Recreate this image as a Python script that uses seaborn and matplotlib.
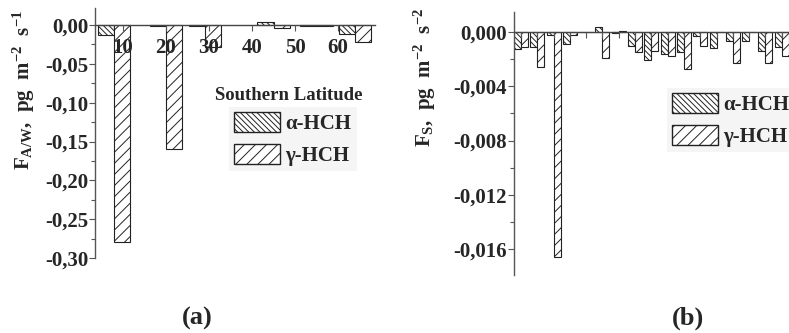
import matplotlib
matplotlib.use("Agg")
import matplotlib.pyplot as plt
from matplotlib.patches import Patch
from matplotlib.ticker import FixedLocator, FuncFormatter, MultipleLocator
import pandas as pd
import seaborn as sns

compounds = ["α-HCH", "γ-HCH"]

# (a) air/water exchange flux against southern latitude
lat_a = [8, 20, 29, 45, 55, 64]
alpha_a = [-0.013, -0.0008, -0.0008, 0.0035, -0.0008, -0.011]
gamma_a = [-0.280, -0.160, -0.028, -0.004, -0.0008, -0.022]

# (b) flux per sampling station
station_b = list(range(1, 18))
alpha_b = [-0.00125, -0.0011, -0.0002, -0.0009, 0.0, 0.0004, -0.0001, -0.0010, -0.0021,
           -0.0016, -0.0015, -0.0003, -0.0012, -0.0007, -0.0007, -0.0014, -0.0011]
gamma_b = [-0.0011, -0.0026, -0.0166, -0.0002, 0.0, -0.0019, 0.0001, -0.0015, -0.0014,
           -0.0018, -0.0027, -0.0010, 0.0, -0.0023, 0.0, -0.0023, -0.0018]

yticks_a = [0.0, -0.05, -0.10, -0.15, -0.20, -0.25, -0.30]
yticks_b = [0.0, -0.004, -0.008, -0.012, -0.016]
xticks_a = [10, 20, 30, 40, 50, 60]

hatches = {"α-HCH": "\\\\\\\\\\\\", "γ-HCH": "///"}

sns.set_theme(style="ticks")
plt.rcParams["font.family"] = ["Liberation Serif", "DejaVu Serif"]
plt.rcParams["font.weight"] = "bold"
plt.rcParams["mathtext.fontset"] = "custom"
plt.rcParams["mathtext.rm"] = "Liberation Serif:bold"
plt.rcParams["mathtext.it"] = "Liberation Serif:bold"
plt.rcParams["mathtext.bf"] = "Liberation Serif:bold"
plt.rcParams["hatch.linewidth"] = 0.7
plt.rcParams["hatch.color"] = "#222222"
plt.rcParams["axes.unicode_minus"] = False


def comma_fmt(decimals):
    def f(v, pos):
        if abs(v) < 1e-12:
            v = 0.0
        return f"{v:.{decimals}f}".replace(".", ",")
    return FuncFormatter(f)


def style_axes(ax):
    ax.set_axisbelow(False)
    for side in ["top", "right"]:
        ax.spines[side].set_visible(False)
    ax.spines["bottom"].set_position(("data", 0))
    ax.spines["left"].set_color("#555555")
    ax.spines["bottom"].set_color("#444444")
    ax.spines["left"].set_linewidth(1.0)
    ax.spines["bottom"].set_linewidth(1.0)
    ax.tick_params(axis="both", which="both", direction="out", color="#555555", width=0.8)
    ax.tick_params(axis="both", which="major", length=4, labelsize=15)
    ax.tick_params(axis="y", which="minor", length=3)
    ax.tick_params(axis="y", pad=1)
    for c, comp in zip(ax.containers, compounds):
        for bar in c:
            bar.set_hatch(hatches[comp])
    handles = [Patch(facecolor="white", edgecolor="#222222", hatch=hatches[c], label=c)
               for c in compounds]
    return handles


fig = plt.figure(figsize=(7.89, 3.33), dpi=100)
ax_a = fig.add_axes([0.1204, 0.2252, 0.3549, 0.7508])
ax_b = fig.add_axes([0.6515, 0.1742, 0.3485, 0.7898])

pal = {c: "white" for c in compounds}

df_a = pd.DataFrame({
    "lat": lat_a + lat_a,
    "flux": alpha_a + gamma_a,
    "compound": [compounds[0]] * len(lat_a) + [compounds[1]] * len(lat_a),
})
sns.barplot(data=df_a, x="lat", y="flux", hue="compound", hue_order=compounds,
            native_scale=True, palette=pal, width=0.83, errorbar=None, saturation=1,
            edgecolor="#222222", linewidth=0.8, legend=False, ax=ax_a)

df_b = pd.DataFrame({
    "station": station_b + station_b,
    "flux": alpha_b + gamma_b,
    "compound": [compounds[0]] * len(station_b) + [compounds[1]] * len(station_b),
})
sns.barplot(data=df_b, x="station", y="flux", hue="compound", hue_order=compounds,
            palette=pal, width=0.86, errorbar=None, saturation=1,
            edgecolor="#222222", linewidth=0.8, legend=False, ax=ax_b)

# panel (a)
handles = style_axes(ax_a)
ax_a.set_xlim(3.5, 68.6)
ax_a.set_ylim(-0.30, 0.022)
ax_a.set_xticks(xticks_a)
ax_a.set_xticklabels([str(t) for t in xticks_a])
ax_a.tick_params(axis="x", pad=5)
ax_a.yaxis.set_major_locator(FixedLocator(yticks_a))
ax_a.yaxis.set_minor_locator(MultipleLocator(0.025))
ax_a.yaxis.set_major_formatter(comma_fmt(2))
ax_a.set_ylabel(r"F$_{A/W}$,  pg  m$^{-2}$  s$^{-1}$", fontsize=15, fontweight="bold")
ax_a.yaxis.set_label_coords(-0.207, 0.672)
ax_a.set_xlabel("Southern Latitude", fontsize=13.5, fontweight="bold")
ax_a.xaxis.set_label_coords(0.691, 0.684)
ax_a.legend(handles=handles, loc="upper left", bbox_to_anchor=(0.479, 0.604),
            borderaxespad=0, prop={"size": 15, "weight": "bold"}, handlelength=2.2,
            handleheight=1.05, labelspacing=0.5, handletextpad=0.25, borderpad=0.25,
            facecolor="#f5f5f5", edgecolor="none", framealpha=1, fancybox=False)

# panel (b)
handles = style_axes(ax_b)
ax_b.set_xlim(-0.43, 16.45)
ax_b.set_ylim(-0.0179, 0.00147)
ax_b.set_xticks(range(len(station_b)))
ax_b.set_xticklabels([])
ax_b.set_xlabel("")
ax_b.yaxis.set_major_locator(FixedLocator(yticks_b))
ax_b.yaxis.set_minor_locator(MultipleLocator(0.002))
ax_b.yaxis.set_major_formatter(comma_fmt(3))
ax_b.set_ylabel(r"F$_{S}$,  pg  m$^{-2}$  s$^{-2}$", fontsize=15, fontweight="bold")
ax_b.yaxis.set_label_coords(-0.276, 0.753)
ax_b.legend(handles=handles, loc="upper left", bbox_to_anchor=(0.556, 0.711),
            borderaxespad=0, prop={"size": 15, "weight": "bold"}, handlelength=2.2,
            handleheight=1.05, labelspacing=0.5, handletextpad=0.25, borderpad=0.25,
            facecolor="#f5f5f5", edgecolor="none", framealpha=1, fancybox=False)

fig.text(197 / 789, 1 - 318 / 333, "(a)", ha="center", va="center", fontsize=19, fontweight="bold")
fig.text(688 / 789, 1 - 318 / 333, "(b)", ha="center", va="center", fontsize=19, fontweight="bold")

fig.savefig("out.png", dpi=100)
